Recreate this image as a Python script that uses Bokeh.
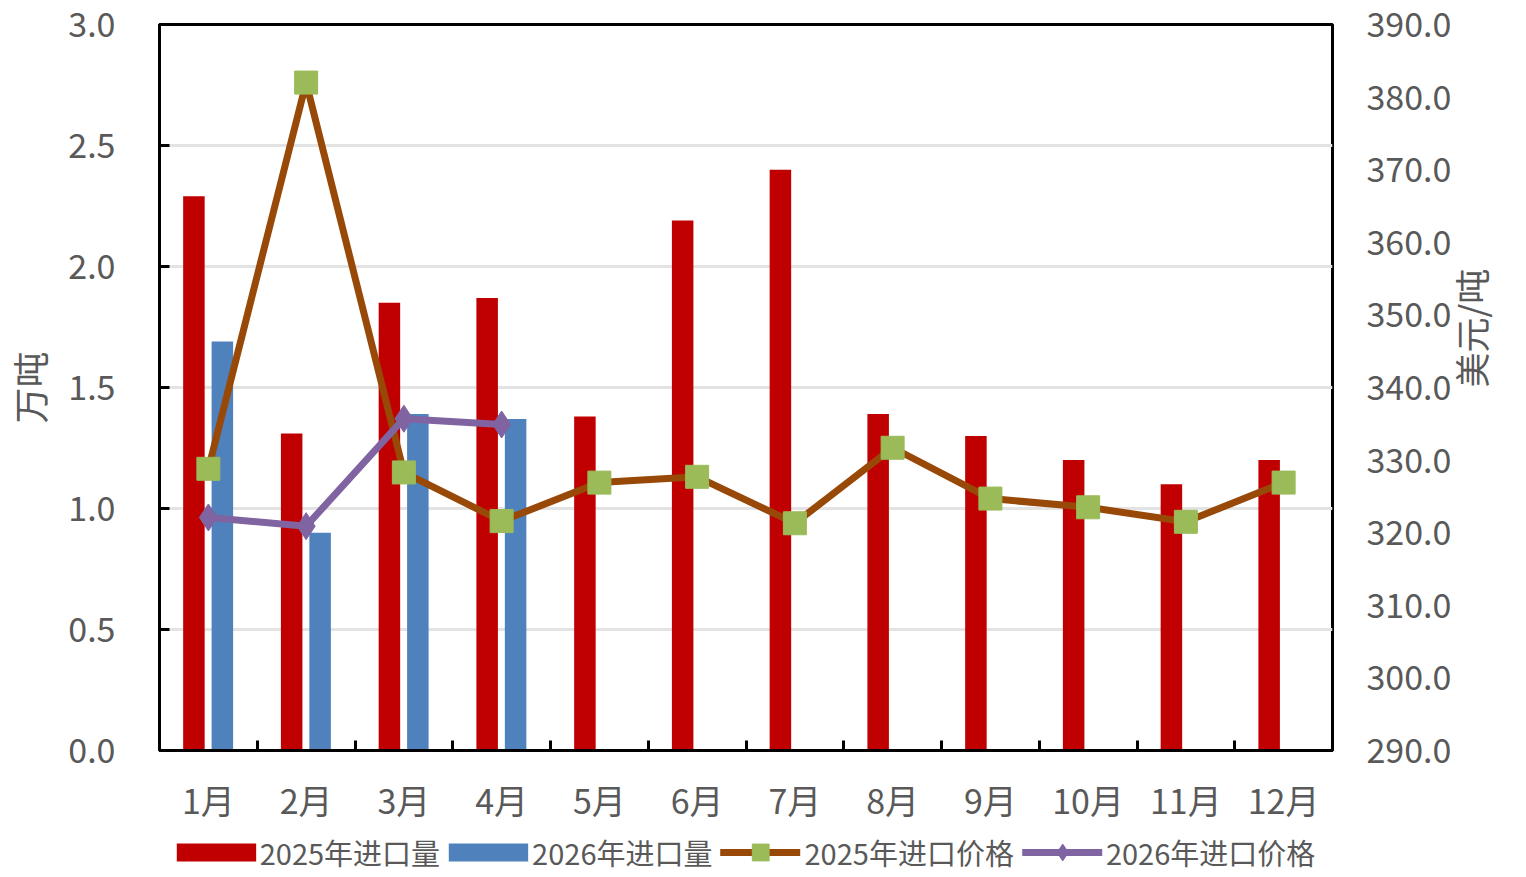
import math
from bokeh.plotting import figure
from bokeh.layouts import column
from bokeh.models import (Range1d, LinearAxis, FixedTicker, PrintfTickFormatter,
                          Legend, LegendItem, ColumnDataSource, Grid)
from bokeh.transform import dodge
from bokeh.embed import file_html
from bokeh.resources import INLINE

months = ["1月", "2月", "3月", "4月", "5月", "6月", "7月", "8月", "9月", "10月", "11月", "12月"]
vol_2025 = [2.29, 1.31, 1.85, 1.87, 1.38, 2.19, 2.40, 1.39, 1.30, 1.20, 1.10, 1.20]
vol_2026 = [1.69, 0.90, 1.39, 1.37]
price_2025 = [328.8, 382.0, 328.3, 321.6, 326.9, 327.7, 321.3, 331.7, 324.7, 323.5, 321.5, 326.9]
price_2026 = [322.1, 320.9, 335.7, 334.9]
left_ticks = [0.0, 0.5, 1.0, 1.5, 2.0, 2.5, 3.0]
right_ticks = [290, 300, 310, 320, 330, 340, 350, 360, 370, 380, 390]
series_names = ["2025年进口量", "2026年进口量", "2025年进口价格", "2026年进口价格"]

FONT = "Noto Sans CJK SC"
GRAY = "#595959"
TICK_FS = "34px"
RED, BLUE, BROWN, GREEN, PURPLE = "#C00000", "#4F81BD", "#984807", "#9BBB59", "#8064A2"

pos = [i + 0.5 for i in range(len(months))]
src25 = ColumnDataSource(dict(x=pos, v=vol_2025, p=price_2025))
src26 = ColumnDataSource(dict(x=pos[:len(vol_2026)], v=vol_2026, p=price_2026))

p = figure(width=1526, height=827, output_backend="svg", toolbar_location=None,
           x_range=Range1d(0, 12), y_range=Range1d(0, 3.0),
           min_border_left=158, min_border_right=194, min_border_top=24, min_border_bottom=77)
p.extra_y_ranges = {"price": Range1d(290, 390)}
p.xaxis.visible = False
p.yaxis.visible = False
p.xgrid.visible = False
p.ygrid.visible = False
p.outline_line_color = "black"
p.outline_line_width = 3
p.background_fill_color = "white"
p.border_fill_color = "white"

# left axis
yax = LinearAxis(ticker=FixedTicker(ticks=left_ticks), formatter=PrintfTickFormatter(format="%.1f"))
yax.axis_label = "万吨"
yax.axis_line_color = "black"
yax.axis_line_width = 3
yax.major_tick_in = 10
yax.major_tick_out = 0
yax.major_tick_line_width = 3
yax.major_tick_line_color = "black"
yax.minor_tick_line_color = None
yax.major_label_standoff = 44
yax.major_label_text_font = FONT
yax.major_label_text_font_size = TICK_FS
yax.major_label_text_color = GRAY
yax.axis_label_text_font = FONT
yax.axis_label_text_font_size = "36px"
yax.axis_label_text_color = GRAY
yax.axis_label_text_font_style = "normal"
yax.axis_label_standoff = 10
p.add_layout(yax, "left")

grid = Grid(dimension=1, ticker=yax.ticker, grid_line_color="#e3e3e3", grid_line_width=3)
p.add_layout(grid)

# right axis
rax = LinearAxis(y_range_name="price", ticker=FixedTicker(ticks=right_ticks),
                 formatter=PrintfTickFormatter(format="%.1f"))
rax.axis_label = "美元/吨"
rax.axis_label_orientation = math.pi / 2
rax.axis_line_color = None
rax.major_tick_line_color = None
rax.minor_tick_line_color = None
rax.major_label_standoff = 28
rax.major_label_text_font = FONT
rax.major_label_text_font_size = TICK_FS
rax.major_label_text_color = GRAY
rax.axis_label_text_font = FONT
rax.axis_label_text_font_size = "35px"
rax.axis_label_text_color = GRAY
rax.axis_label_text_font_style = "normal"
rax.axis_label_standoff = 16
p.add_layout(rax, "right")

# bottom axis
xax = LinearAxis(ticker=FixedTicker(ticks=pos, minor_ticks=list(range(1, 12))))
xax.major_label_overrides = {pos[i]: m for i, m in enumerate(months)}
xax.axis_line_color = "black"
xax.axis_line_width = 3
xax.major_tick_line_color = None
xax.minor_tick_in = 10
xax.minor_tick_out = 0
xax.minor_tick_line_width = 3
xax.minor_tick_line_color = "black"
xax.major_label_standoff = 18
xax.major_label_text_font = FONT
xax.major_label_text_font_size = TICK_FS
xax.major_label_text_color = GRAY
p.add_layout(xax, "below")

p.vbar(x=dodge("x", -0.148), top="v", width=0.22, source=src25, fill_color=RED, line_color=None)
p.vbar(x=dodge("x", 0.143), top="v", width=0.22, source=src26, fill_color=BLUE, line_color=None)

p.line("x", "p", source=src25, y_range_name="price", line_color=BROWN,
       line_width=7, line_join="round", line_cap="round")
p.scatter("x", "p", source=src25, y_range_name="price", marker="square", size=23,
          fill_color=GREEN, line_color=GREEN)
p.line("x", "p", source=src26, y_range_name="price", line_color=PURPLE,
       line_width=7, line_join="round", line_cap="round")
p.scatter("x", "p", source=src26, y_range_name="price", marker="diamond", size=27,
          fill_color=PURPLE, line_color=PURPLE)

# legend strip: a second figure whose view range shows none of the data,
# used only to host the legend below the chart
lf = figure(width=1526, height=50, output_backend="svg", toolbar_location=None,
            x_range=Range1d(0, 12), y_range=Range1d(-20, -19),
            min_border_left=0, min_border_right=0, min_border_top=0, min_border_bottom=0)
lf.axis.visible = False
lf.grid.visible = False
lf.outline_line_color = None
lf.background_fill_color = "white"
lf.border_fill_color = "white"
r1 = lf.line("x", "v", source=src25, line_color=RED, line_width=18, line_cap="butt")
r2 = lf.line("x", "v", source=src26, line_color=BLUE, line_width=18, line_cap="butt")
r3l = lf.line("x", "p", source=src25, line_color=BROWN, line_width=7, line_cap="round")
r3s = lf.scatter("x", "p", source=src25, marker="square", fill_color=GREEN, line_color=GREEN)
r4l = lf.line("x", "p", source=src26, line_color=PURPLE, line_width=7, line_cap="round")
r4s = lf.scatter("x", "p", source=src26, marker="diamond", fill_color=PURPLE, line_color=PURPLE)

legend = Legend(items=[
    LegendItem(label=series_names[0], renderers=[r1]),
    LegendItem(label=series_names[1], renderers=[r2]),
    LegendItem(label=series_names[2], renderers=[r3l, r3s]),
    LegendItem(label=series_names[3], renderers=[r4l, r4s]),
], orientation="horizontal", location="center")
legend.glyph_width = 80
legend.glyph_height = 42
legend.label_standoff = 4
legend.spacing = 8
legend.padding = 0
legend.margin = 0
legend.border_line_color = None
legend.background_fill_alpha = 0
legend.label_text_font = FONT
legend.label_text_font_size = "29px"
legend.label_text_color = GRAY
lf.add_layout(legend, "center")

open("out.html", "w").write(file_html(column(p, lf, spacing=0), INLINE))
